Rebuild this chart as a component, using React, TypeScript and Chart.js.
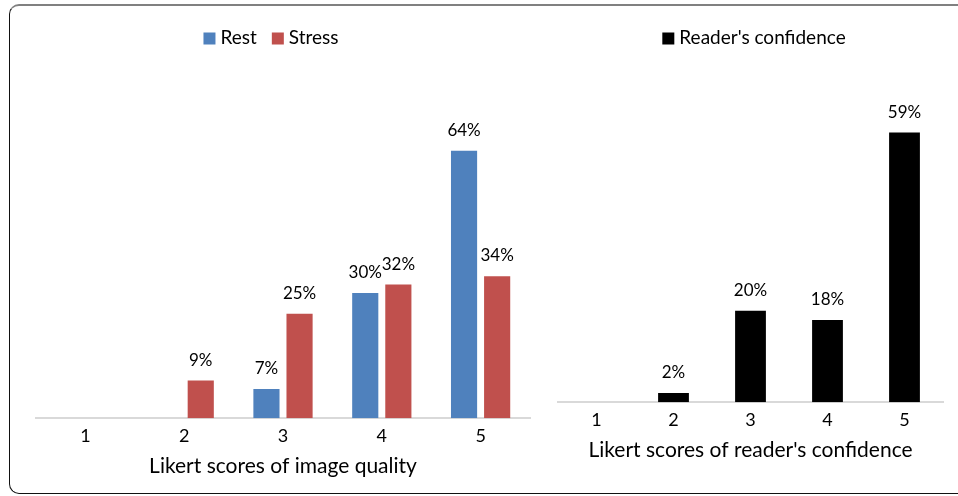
import { useEffect, useRef } from "react";
import { Chart, registerables } from "chart.js";

Chart.register(...registerables);

// Likert scores 1..5 and the share of ratings (%) at each score
const scores = ["1", "2", "3", "4", "5"];
const restQuality = [0, 0, 7, 30, 64];
const stressQuality = [0, 9, 25, 32, 34];
const readerConfidence = [0, 2, 20, 18, 59];

const FONT = "Lato, 'Open Sans', sans-serif";
const INK = "#000000";

// Percent labels above each non-zero bar
const valueLabels = {
  id: "valueLabels",
  afterDatasetsDraw(chart: any) {
    const ctx = chart.ctx;
    ctx.save();
    ctx.font = `17px ${FONT}`;
    ctx.fillStyle = INK;
    ctx.textAlign = "center";
    ctx.textBaseline = "alphabetic";
    chart.data.datasets.forEach((ds: any, i: number) => {
      const meta = chart.getDatasetMeta(i);
      meta.data.forEach((bar: any, j: number) => {
        const v = ds.data[j];
        if (!v) return;
        ctx.fillText(`${v}%`, bar.x, bar.y - 15);
      });
    });
    ctx.restore();
  },
};

// Compact square-swatch legend centred on a given x
const boxLegend = {
  id: "boxLegend",
  afterDraw(chart: any, _args: any, opts: any) {
    const ctx = chart.ctx;
    ctx.save();
    ctx.font = `19px ${FONT}`;
    const box = 12;
    const gap = 5;
    const spacing = 15;
    const items = chart.data.datasets.map((ds: any) => ({
      text: ds.label as string,
      color: ds.backgroundColor as string,
      w: ctx.measureText(ds.label).width as number,
    }));
    const total =
      items.reduce((s: number, it: any) => s + box + gap + it.w, 0) +
      spacing * (items.length - 1);
    let x = opts.centerX - total / 2;
    ctx.textAlign = "left";
    ctx.textBaseline = "alphabetic";
    items.forEach((it: any) => {
      ctx.fillStyle = it.color;
      ctx.fillRect(x, opts.baseline - box + 0.5, box, box);
      ctx.fillStyle = INK;
      ctx.fillText(it.text, x + box + gap, opts.baseline);
      x += box + gap + it.w + spacing;
    });
    ctx.restore();
  },
};

function xScale(title: string, tickPad: number) {
  return {
    grid: { display: false, drawTicks: false },
    border: { color: "#d9d9d9", width: 2 },
    ticks: { color: INK, font: { family: FONT, size: 18 }, padding: tickPad },
    title: {
      display: true,
      text: title,
      color: INK,
      font: { family: FONT, size: 21 },
      padding: { top: 0, bottom: 0 },
    },
  };
}

function QualityChart() {
  const ref = useRef<HTMLCanvasElement>(null);
  useEffect(() => {
    const chart = new Chart(ref.current!, {
      type: "bar",
      data: {
        labels: scores,
        datasets: [
          {
            label: "Rest",
            data: restQuality,
            backgroundColor: "#4F81BD",
            categoryPercentage: 0.67,
            barPercentage: 0.79,
          },
          {
            label: "Stress",
            data: stressQuality,
            backgroundColor: "#C0504D",
            categoryPercentage: 0.67,
            barPercentage: 0.79,
          },
        ],
      },
      options: {
        responsive: false,
        animation: false,
        layout: { padding: { top: 84, left: 36, right: 15, bottom: 17 } },
        plugins: {
          legend: { display: false },
          tooltip: { enabled: false },
          boxLegend: { centerX: 271, baseline: 44 },
        } as any,
        scales: {
          x: xScale("Likert scores of image quality", 7) as any,
          y: { display: false, min: 0, max: 80 },
        },
      },
      plugins: [valueLabels, boxLegend],
    });
    return () => chart.destroy();
  }, []);
  return (
    <canvas
      ref={ref}
      width={545}
      height={496}
      style={{ position: "absolute", left: 0, top: 0, display: "block" }}
    />
  );
}

function ConfidenceChart() {
  const ref = useRef<HTMLCanvasElement>(null);
  useEffect(() => {
    const chart = new Chart(ref.current!, {
      type: "bar",
      data: {
        labels: scores,
        datasets: [
          {
            label: "Reader's confidence",
            data: readerConfidence,
            backgroundColor: "#000000",
            categoryPercentage: 1,
            barPercentage: 0.4,
          },
        ],
      },
      options: {
        responsive: false,
        animation: false,
        layout: { padding: { top: 128, left: 13, right: 15, bottom: 33 } },
        plugins: {
          legend: { display: false },
          tooltip: { enabled: false },
          boxLegend: { centerX: 209, baseline: 44 },
        } as any,
        scales: {
          x: xScale("Likert scores of reader's confidence", 7) as any,
          y: { display: false, min: 0, max: 60 },
        },
      },
      plugins: [valueLabels, boxLegend],
    });
    return () => chart.destroy();
  }, []);
  return (
    <canvas
      ref={ref}
      width={413}
      height={496}
      style={{ position: "absolute", left: 545, top: 0, display: "block" }}
    />
  );
}

export default function App() {
  return (
    <div
      style={{
        position: "absolute",
        left: 0,
        top: 0,
        width: 958,
        height: 496,
        overflow: "hidden",
        background: "#ffffff",
      }}
    >
      <div
        style={{
          position: "absolute",
          left: 9,
          top: 4,
          width: 980,
          height: 490,
          borderLeft: "1.5px solid #111111",
          borderTop: "2px solid #808080",
          borderBottom: "1.5px solid #111111",
          borderTopLeftRadius: 10,
          borderBottomLeftRadius: 10,
          boxSizing: "border-box",
        }}
      />
      <QualityChart />
      <ConfidenceChart />
    </div>
  );
}
